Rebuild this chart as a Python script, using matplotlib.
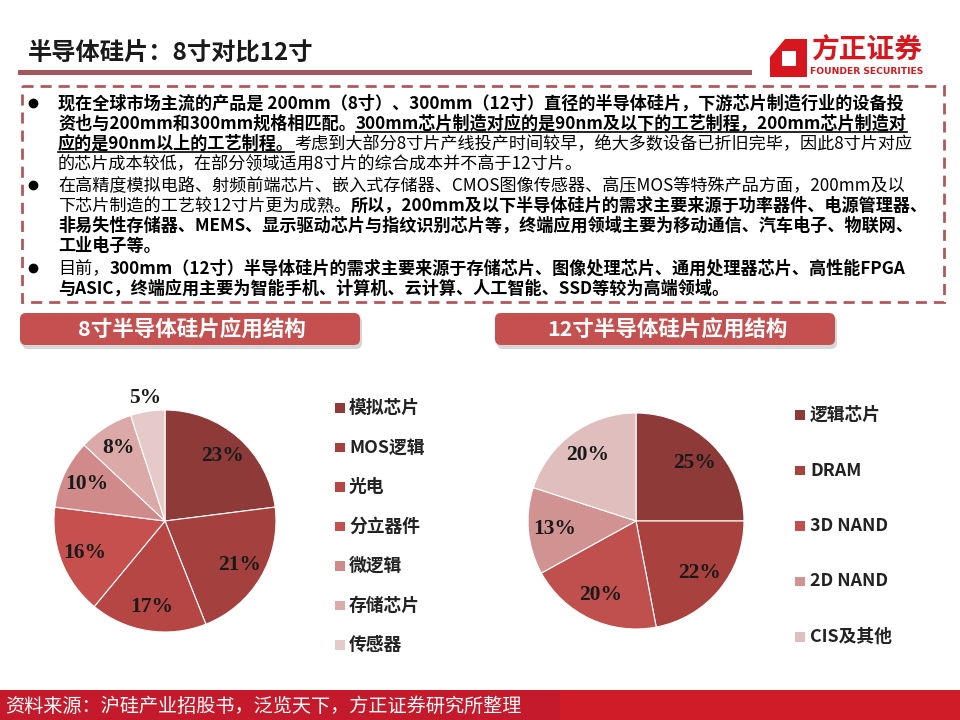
import matplotlib
matplotlib.use("Agg")
import matplotlib.pyplot as plt
from matplotlib.patches import Rectangle, FancyBboxPatch, Polygon

plt.rcParams['font.family'] = ['Noto Sans CJK SC', 'DejaVu Sans']

# ---- data ----
title = "半导体硅片：8寸对比12寸"
source = "资料来源：沪硅产业招股书，泛览天下，方正证券研究所整理"

left_title = "8寸半导体硅片应用结构"
left_labels = ["模拟芯片", "MOS逻辑", "光电", "分立器件", "微逻辑", "存储芯片", "传感器"]
left_values = [23, 21, 17, 16, 10, 8, 5]
left_colors = ["#8d3a39", "#a4403e", "#b54644", "#c5504e", "#d08a89", "#dba9a8", "#e6c9c9"]

right_title = "12寸半导体硅片应用结构"
right_labels = ["逻辑芯片", "DRAM", "3D NAND", "2D NAND", "CIS及其他"]
right_values = [25, 22, 20, 13, 20]
right_colors = ["#8d3a39", "#a9423f", "#c0504d", "#d09392", "#e0bebe"]

# text lines: list of (text, bold, underline) segments
lines = [
    [("现在全球市场主流的产品是 200mm（8寸）、300mm（12寸）直径的半导体硅片，下游芯片制造行业的设备投", True, False)],
    [("资也与200mm和300mm规格相匹配。", True, False),
     ("300mm芯片制造对应的是90nm及以下的工艺制程，200mm芯片制造对", True, True)],
    [("应的是90nm以上的工艺制程。", True, True),
     ("考虑到大部分8寸片产线投产时间较早，绝大多数设备已折旧完毕，因此8寸片对应", False, False)],
    [("的芯片成本较低，在部分领域适用8寸片的综合成本并不高于12寸片。", False, False)],
    [("在高精度模拟电路、射频前端芯片、嵌入式存储器、CMOS图像传感器、高压MOS等特殊产品方面，200mm及以", False, False)],
    [("下芯片制造的工艺较12寸片更为成熟。", False, False),
     ("所以，200mm及以下半导体硅片的需求主要来源于功率器件、电源管理器、", True, False)],
    [("非易失性存储器、MEMS、显示驱动芯片与指纹识别芯片等，终端应用领域主要为移动通信、汽车电子、物联网、", True, False)],
    [("工业电子等。", True, False)],
    [("目前，", False, False),
     ("300mm（12寸）半导体硅片的需求主要来源于存储芯片、图像处理芯片、通用处理器芯片、高性能FPGA", True, False)],
    [("与ASIC，终端应用主要为智能手机、计算机、云计算、人工智能、SSD等较为高端领域。", True, False)],
]
line_y = [103, 123, 143, 163, 185, 205, 225, 245, 268, 288]
bullet_y = [103, 185, 268]

W, H = 960, 720
fig = plt.figure(figsize=(9.6, 7.2), dpi=100)
ax = fig.add_axes([0, 0, 1, 1])
ax.set_xlim(0, W)
ax.set_ylim(H, 0)
ax.axis("off")

# header
ax.text(28, 53, title, fontsize=17.5, fontweight="bold", color="#1a1a1a", va="center")
ax.add_patch(Rectangle((18, 70), 734, 4.5, color="#a5585b", lw=0))

# logo
ax.add_patch(Polygon([(770, 57), (785, 39), (807, 39), (807, 77), (770, 77)],
                     closed=True, color="#d7161e", lw=0))
ax.add_patch(Rectangle((782, 51), 14, 15, color="white", lw=0))
ax.text(867, 51, "方正证券", fontsize=20, fontweight="bold", color="#d7161e",
        ha="center", va="center")
ax.text(867, 71, "FOUNDER SECURITIES", fontsize=6.6, fontweight="bold", color="#d7161e",
        ha="center", va="center", family=["DejaVu Sans"])

# dashed text box
ax.add_patch(Rectangle((22, 86), 922, 216, fill=False, edgecolor="#b0585b",
                       lw=2, linestyle=(0, (4, 2.5))))

for by in bullet_y:
    ax.plot(33, by, "o", color="black", ms=6)

fig.canvas.draw()
renderer = fig.canvas.get_renderer()
fs = 12.3
for segs, y in zip(lines, line_y):
    x = 58
    for txt, bold, under in segs:
        t = ax.text(x, y + 6, txt, fontsize=fs, fontweight="bold" if bold else "normal",
                    color="black", va="baseline")
        bb = t.get_window_extent(renderer)
        if under:
            ax.plot([x, bb.x1], [y + 9, y + 9], color="black", lw=1.2)
        x = bb.x1

# section headers
for x0, label in [(20, left_title), (495, right_title)]:
    ax.add_patch(FancyBboxPatch((x0 + 2, 316), 340, 33, boxstyle="round,pad=0,rounding_size=6",
                                color="#bbbbbb", lw=0, alpha=0.6))
    ax.add_patch(FancyBboxPatch((x0, 313), 340, 32, boxstyle="round,pad=0,rounding_size=6",
                                color="#c4514f", lw=0))
    ax.text(x0 + 172, 330, label, fontsize=15.5, fontweight="bold", color="white",
            ha="center", va="center")


def draw_pie(cx, cy, r, values, colors, pct_dist):
    pax = fig.add_axes([(cx - r) / W, 1 - (cy + r) / H, 2 * r / W, 2 * r / H])
    wedges, texts, autotexts = pax.pie(
        values, colors=colors, startangle=90, counterclock=False,
        autopct="%d%%", pctdistance=pct_dist,
        wedgeprops=dict(edgecolor="white", linewidth=0.8),
        textprops=dict(fontsize=15.5, fontweight="bold", color="#1a1a1a",
                       family=["Liberation Serif"]))
    pax.set_xlim(-1, 1)
    pax.set_ylim(-1, 1)
    pax.axis("off")
    return autotexts


# left pie
at = draw_pie(165, 521, 111, left_values, left_colors, 0.78)
x, y = at[-1].get_position()
at[-1].set_position((x / 0.78 * 1.12, y / 0.78 * 1.12))

for i, lab in enumerate(left_labels):
    yy = 408 + i * 39.5
    ax.add_patch(Rectangle((335, yy - 5), 9.5, 9.5, color=left_colors[i], lw=0))
    ax.text(349, yy, lab, fontsize=12.8, fontweight="bold", color="#222222", va="center")

# right pie
draw_pie(636, 521, 108, right_values, right_colors, 0.76)
for i, lab in enumerate(right_labels):
    yy = 415 + i * 55.5
    ax.add_patch(Rectangle((795, yy - 5), 9.5, 9.5, color=right_colors[i], lw=0))
    ax.text(810, yy, lab, fontsize=12.8, fontweight="bold", color="#222222", va="center")

# footer
ax.add_patch(Rectangle((0, 690), W, 30, color="#c41a2b", lw=0))
ax.add_patch(Rectangle((560, 690), 400, 30, color="#d01c28", lw=0))
ax.text(5, 706, source, fontsize=13.8, color="white", va="center")

fig.savefig("out.png", dpi=100)
